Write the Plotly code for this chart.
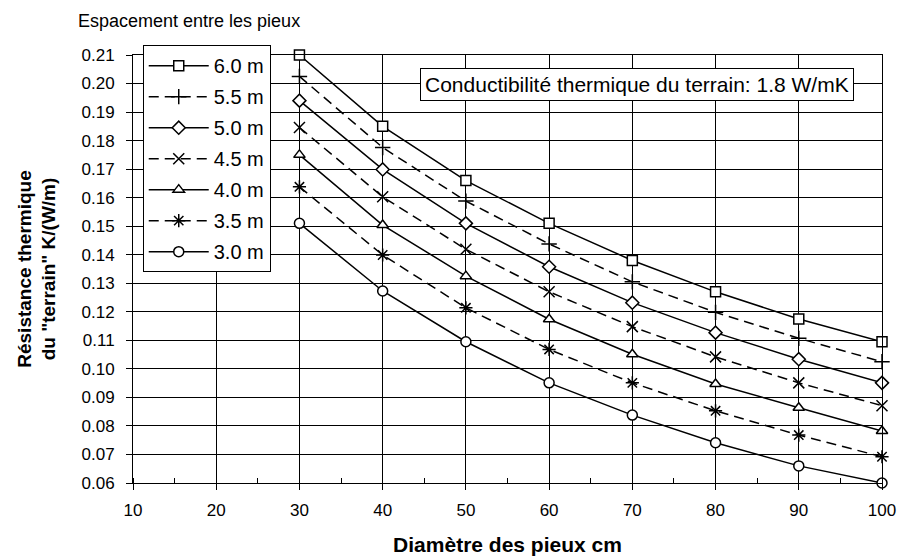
import plotly.graph_objects as go

# diamètre des pieux (cm)
diametres = [30, 40, 50, 60, 70, 80, 90, 100]

# résistance thermique du terrain K/(W/m), par espacement entre pieux
r_6_0 = [0.210, 0.185, 0.166, 0.151, 0.138, 0.127, 0.1175, 0.1095]
r_5_5 = [0.2025, 0.1776, 0.1588, 0.1438, 0.1305, 0.1198, 0.1107, 0.1025]
r_5_0 = [0.194, 0.1699, 0.151, 0.1358, 0.1232, 0.1127, 0.1034, 0.0951]
r_4_5 = [0.1846, 0.1603, 0.1419, 0.127, 0.1148, 0.1042, 0.0951, 0.0871]
r_4_0 = [0.175, 0.1504, 0.1325, 0.1174, 0.1051, 0.0947, 0.0864, 0.0782]
r_3_5 = [0.1638, 0.1399, 0.1214, 0.1068, 0.0951, 0.0853, 0.0768, 0.0692]
r_3_0 = [0.151, 0.1273, 0.1095, 0.0951, 0.0838, 0.0741, 0.066, 0.060]

series = [
    ('6.0 m', r_6_0, 'solid', 'square'),
    ('5.5 m', r_5_5, '10px,6px', 'cross-thin'),
    ('5.0 m', r_5_0, 'solid', 'diamond'),
    ('4.5 m', r_4_5, '10px,6px', 'x-thin'),
    ('4.0 m', r_4_0, 'solid', 'triangle-up'),
    ('3.5 m', r_3_5, '10px,6px', 'asterisk'),
    ('3.0 m', r_3_0, 'solid', 'circle'),
]

FONT = 'Liberation Sans, Arial, sans-serif'

fig = go.Figure()
for name, values, dash, symbol in series:
    thin = symbol in ('cross-thin', 'x-thin', 'asterisk')
    fig.add_trace(go.Scatter(
        x=diametres, y=values, name=name, legendgroup=name,
        mode='lines+markers',
        cliponaxis=False,
        line=dict(color='black', width=1.5, dash=dash),
        marker=dict(symbol=symbol, size=11 if thin else 10,
                    color='black' if thin else 'white',
                    line=dict(color='black', width=1.5)),
    ))

fig.add_annotation(
    x=70.6, y=0.1995, xref='x', yref='y',
    text='Conductibilité thermique du terrain: 1.8 W/mK',
    showarrow=False, bgcolor='white', bordercolor='black', borderwidth=1,
    borderpad=4, font=dict(size=21, color='black', family=FONT),
)
fig.add_annotation(
    x=-0.076, y=1.0, xref='paper', yref='paper', yshift=22,
    xanchor='left', yanchor='bottom',
    text='Espacement entre les pieux', showarrow=False,
    font=dict(size=18, color='black', family=FONT),
)

fig.update_layout(
    width=901, height=556,
    margin=dict(l=133, r=19, t=55, b=73),
    paper_bgcolor='white', plot_bgcolor='white',
    font=dict(family=FONT, size=17, color='black'),
    legend=dict(
        x=0.013, y=1.023, xanchor='left', yanchor='top',
        bgcolor='white', bordercolor='black', borderwidth=1,
        font=dict(size=20, color='black', family=FONT),
        tracegroupgap=2, itemwidth=60,
    ),
    xaxis=dict(
        range=[10, 100], dtick=10, tick0=10, automargin=False,
        showgrid=True, gridcolor='black', gridwidth=1,
        showline=True, linecolor='black', linewidth=1, mirror=True,
        ticks='outside', ticklen=6, tickcolor='black', ticklabelstandoff=6,
        minor=dict(dtick=5, ticks='inside', ticklen=5, tickcolor='black', showgrid=False),
        zeroline=False,
        title=dict(text='<b>Diamètre des pieux cm</b>', font=dict(size=21), standoff=18),
    ),
    yaxis=dict(
        range=[0.06, 0.21], dtick=0.01, tickformat='.2f', automargin=False,
        showgrid=True, gridcolor='black', gridwidth=1,
        showline=True, linecolor='black', linewidth=1, mirror=True,
        ticks='outside', ticklen=6, tickcolor='black', ticklabelstandoff=8,
        zeroline=False,
        title=dict(text='<b>Résistance thermique<br>du "terrain" K/(W/m)</b>',
                   font=dict(size=19), standoff=20),
    ),
)

# page body margin would offset the chart in the window
fig.write_html('out.html', config={'displayModeBar': False},
               post_script="document.body.style.margin='0';")
